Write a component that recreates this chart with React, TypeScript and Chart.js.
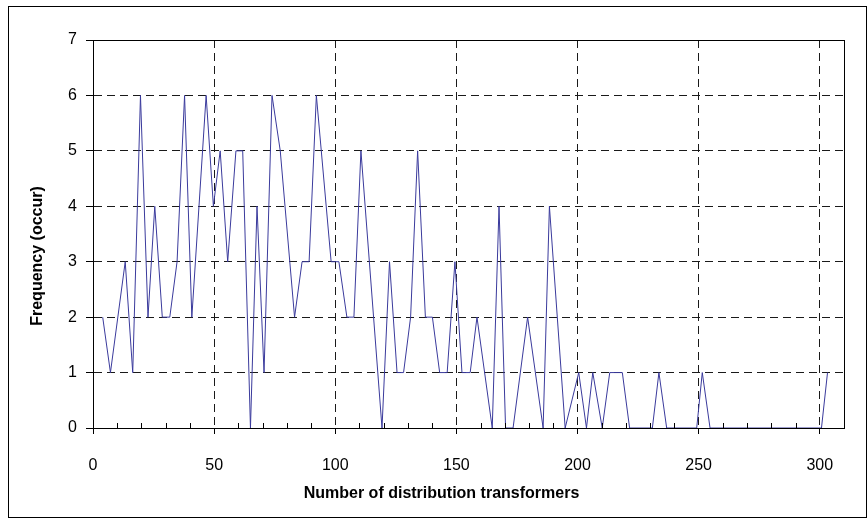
import React, { useEffect, useRef } from 'react';
import { Chart, registerables } from 'chart.js';

Chart.register(...registerables);

// Number of distribution transformers (x) at each vertex of the line
const TRANSFORMERS = [
  4.0, 7.2, 13.3, 16.4, 19.6, 22.7, 25.5, 28.6, 31.7, 34.7,
  37.8, 40.8, 46.7, 49.7, 52.5, 55.6, 59.0, 61.8, 65.0, 67.7,
  70.6, 73.9, 77.3, 83.2, 86.3, 89.2, 92.2, 98.3, 101.5, 104.8,
  107.7, 110.6, 119.3, 122.4, 125.5, 128.2, 131.1, 134.0, 137.2, 140.1,
  143.1, 146.2, 149.4, 152.3, 155.7, 158.5, 164.8, 167.6, 170.3, 173.4,
  179.4, 185.8, 188.4, 194.9, 200.5, 203.7, 206.3, 210.2, 213.3, 218.5,
  221.5, 230.9, 233.6, 236.8, 249.2, 251.5, 254.7, 300.7, 303.2,
];

// Frequency (occur) at each vertex
const FREQUENCY = [
  2, 1, 3, 1, 6, 2, 4, 2, 2, 3,
  6, 2, 6, 4, 5, 3, 5, 5, 0, 4,
  1, 6, 5, 2, 3, 3, 6, 3, 3, 2,
  2, 5, 0, 3, 1, 1, 2, 5, 2, 2,
  1, 1, 3, 1, 1, 2, 0, 4, 0, 0,
  2, 0, 4, 0, 1, 0, 1, 0, 1, 1,
  0, 0, 1, 0, 0, 1, 0, 0, 1,
];

const X_TICKS = [0, 50, 100, 150, 200, 250, 300];
const X_MINOR_TICKS = [
  10, 20, 30, 40, 60, 70, 80, 90, 110, 120, 130, 140, 160, 170, 180, 190,
  210, 220, 230, 240, 260, 270, 280, 290,
];
const Y_TICKS = [0, 1, 2, 3, 4, 5, 6, 7];
const X_TITLE = 'Number of distribution transformers';
const Y_TITLE = 'Frequency (occur)';

const CANVAS_W = 857;
const CANVAS_H = 510;
const FONT = "'Liberation Sans', Arial, sans-serif";

const framePlugin = {
  id: 'frameTitlesMinorTicks',
  afterDraw(chart: any) {
    const { ctx, chartArea, scales } = chart;
    const l = Math.round(chartArea.left);
    const t = Math.round(chartArea.top);
    const r = Math.round(chartArea.right);
    const b = Math.round(chartArea.bottom);
    ctx.save();
    ctx.strokeStyle = '#000';
    ctx.lineWidth = 1;
    ctx.setLineDash([]);
    ctx.strokeRect(l + 0.5, t + 0.5, r - l, b - t);
    ctx.beginPath();
    X_MINOR_TICKS.forEach((v) => {
      const px = Math.round(scales.x.getPixelForValue(v)) + 0.5;
      ctx.moveTo(px, b + 0.5);
      ctx.lineTo(px, b - 5);
    });
    ctx.stroke();

    // axis titles, centred on the chart area as in the original
    ctx.fillStyle = '#000';
    ctx.font = `bold 16px ${FONT}`;
    ctx.textAlign = 'center';
    ctx.textBaseline = 'middle';
    ctx.fillText(X_TITLE, chart.width / 2 + 4, 487);
    ctx.translate(29, chart.height / 2 - 6);
    ctx.rotate(-Math.PI / 2);
    ctx.fillText(Y_TITLE, 0, 0);
    ctx.restore();
  },
};

export default function App() {
  const canvasRef = useRef<HTMLCanvasElement | null>(null);

  useEffect(() => {
    if (!canvasRef.current) return;
    const points = TRANSFORMERS.map((x, i) => ({ x, y: FREQUENCY[i] }));
    const chart = new Chart(canvasRef.current, {
      type: 'scatter',
      data: {
        datasets: [
          {
            data: points,
            showLine: true,
            borderColor: '#3a3a9c',
            borderWidth: 1,
            pointRadius: 0,
            pointHoverRadius: 0,
            tension: 0,
            fill: false,
          },
        ],
      },
      options: {
        responsive: false,
        animation: false,
        events: [],
        layout: { padding: { left: 0, top: 33, right: 22, bottom: 0 } },
        plugins: {
          legend: { display: false },
          tooltip: { enabled: false },
        },
        scales: {
          x: {
            type: 'linear',
            min: 0,
            max: 310,
            afterBuildTicks: (scale: any) => {
              scale.ticks = X_TICKS.map((v) => ({ value: v }));
            },
            afterFit: (scale: any) => {
              scale.height = 89;
            },
            grid: {
              color: '#1a1a1a',
              lineWidth: 1,
              tickLength: 6,
              tickColor: '#000',
              tickWidth: 1,
            },
            border: { display: true, color: '#000', width: 1, dash: [8, 5] },
            ticks: {
              color: '#000',
              padding: 22,
              font: { family: FONT, size: 16 },
            },
            title: { display: false },
          },
          y: {
            type: 'linear',
            min: 0,
            max: 7,
            afterBuildTicks: (scale: any) => {
              scale.ticks = Y_TICKS.map((v) => ({ value: v }));
            },
            afterFit: (scale: any) => {
              scale.width = 84;
            },
            grid: {
              color: '#1a1a1a',
              lineWidth: 1,
              tickLength: 7,
              tickColor: '#000',
              tickWidth: 1,
            },
            border: { display: true, color: '#000', width: 1, dash: [8, 5] },
            ticks: {
              color: '#000',
              padding: 9,
              font: { family: FONT, size: 16 },
            },
            title: { display: false },
          },
        },
      },
      plugins: [framePlugin],
    });
    return () => chart.destroy();
  }, []);

  return (
    <div
      style={{
        position: 'absolute',
        left: 8,
        top: 6,
        width: 859,
        height: 512,
        border: '1px solid #000',
        boxSizing: 'border-box',
        background: '#fff',
      }}
    >
      <canvas
        ref={canvasRef}
        width={CANVAS_W}
        height={CANVAS_H}
        style={{ display: 'block', width: CANVAS_W, height: CANVAS_H }}
      />
    </div>
  );
}
